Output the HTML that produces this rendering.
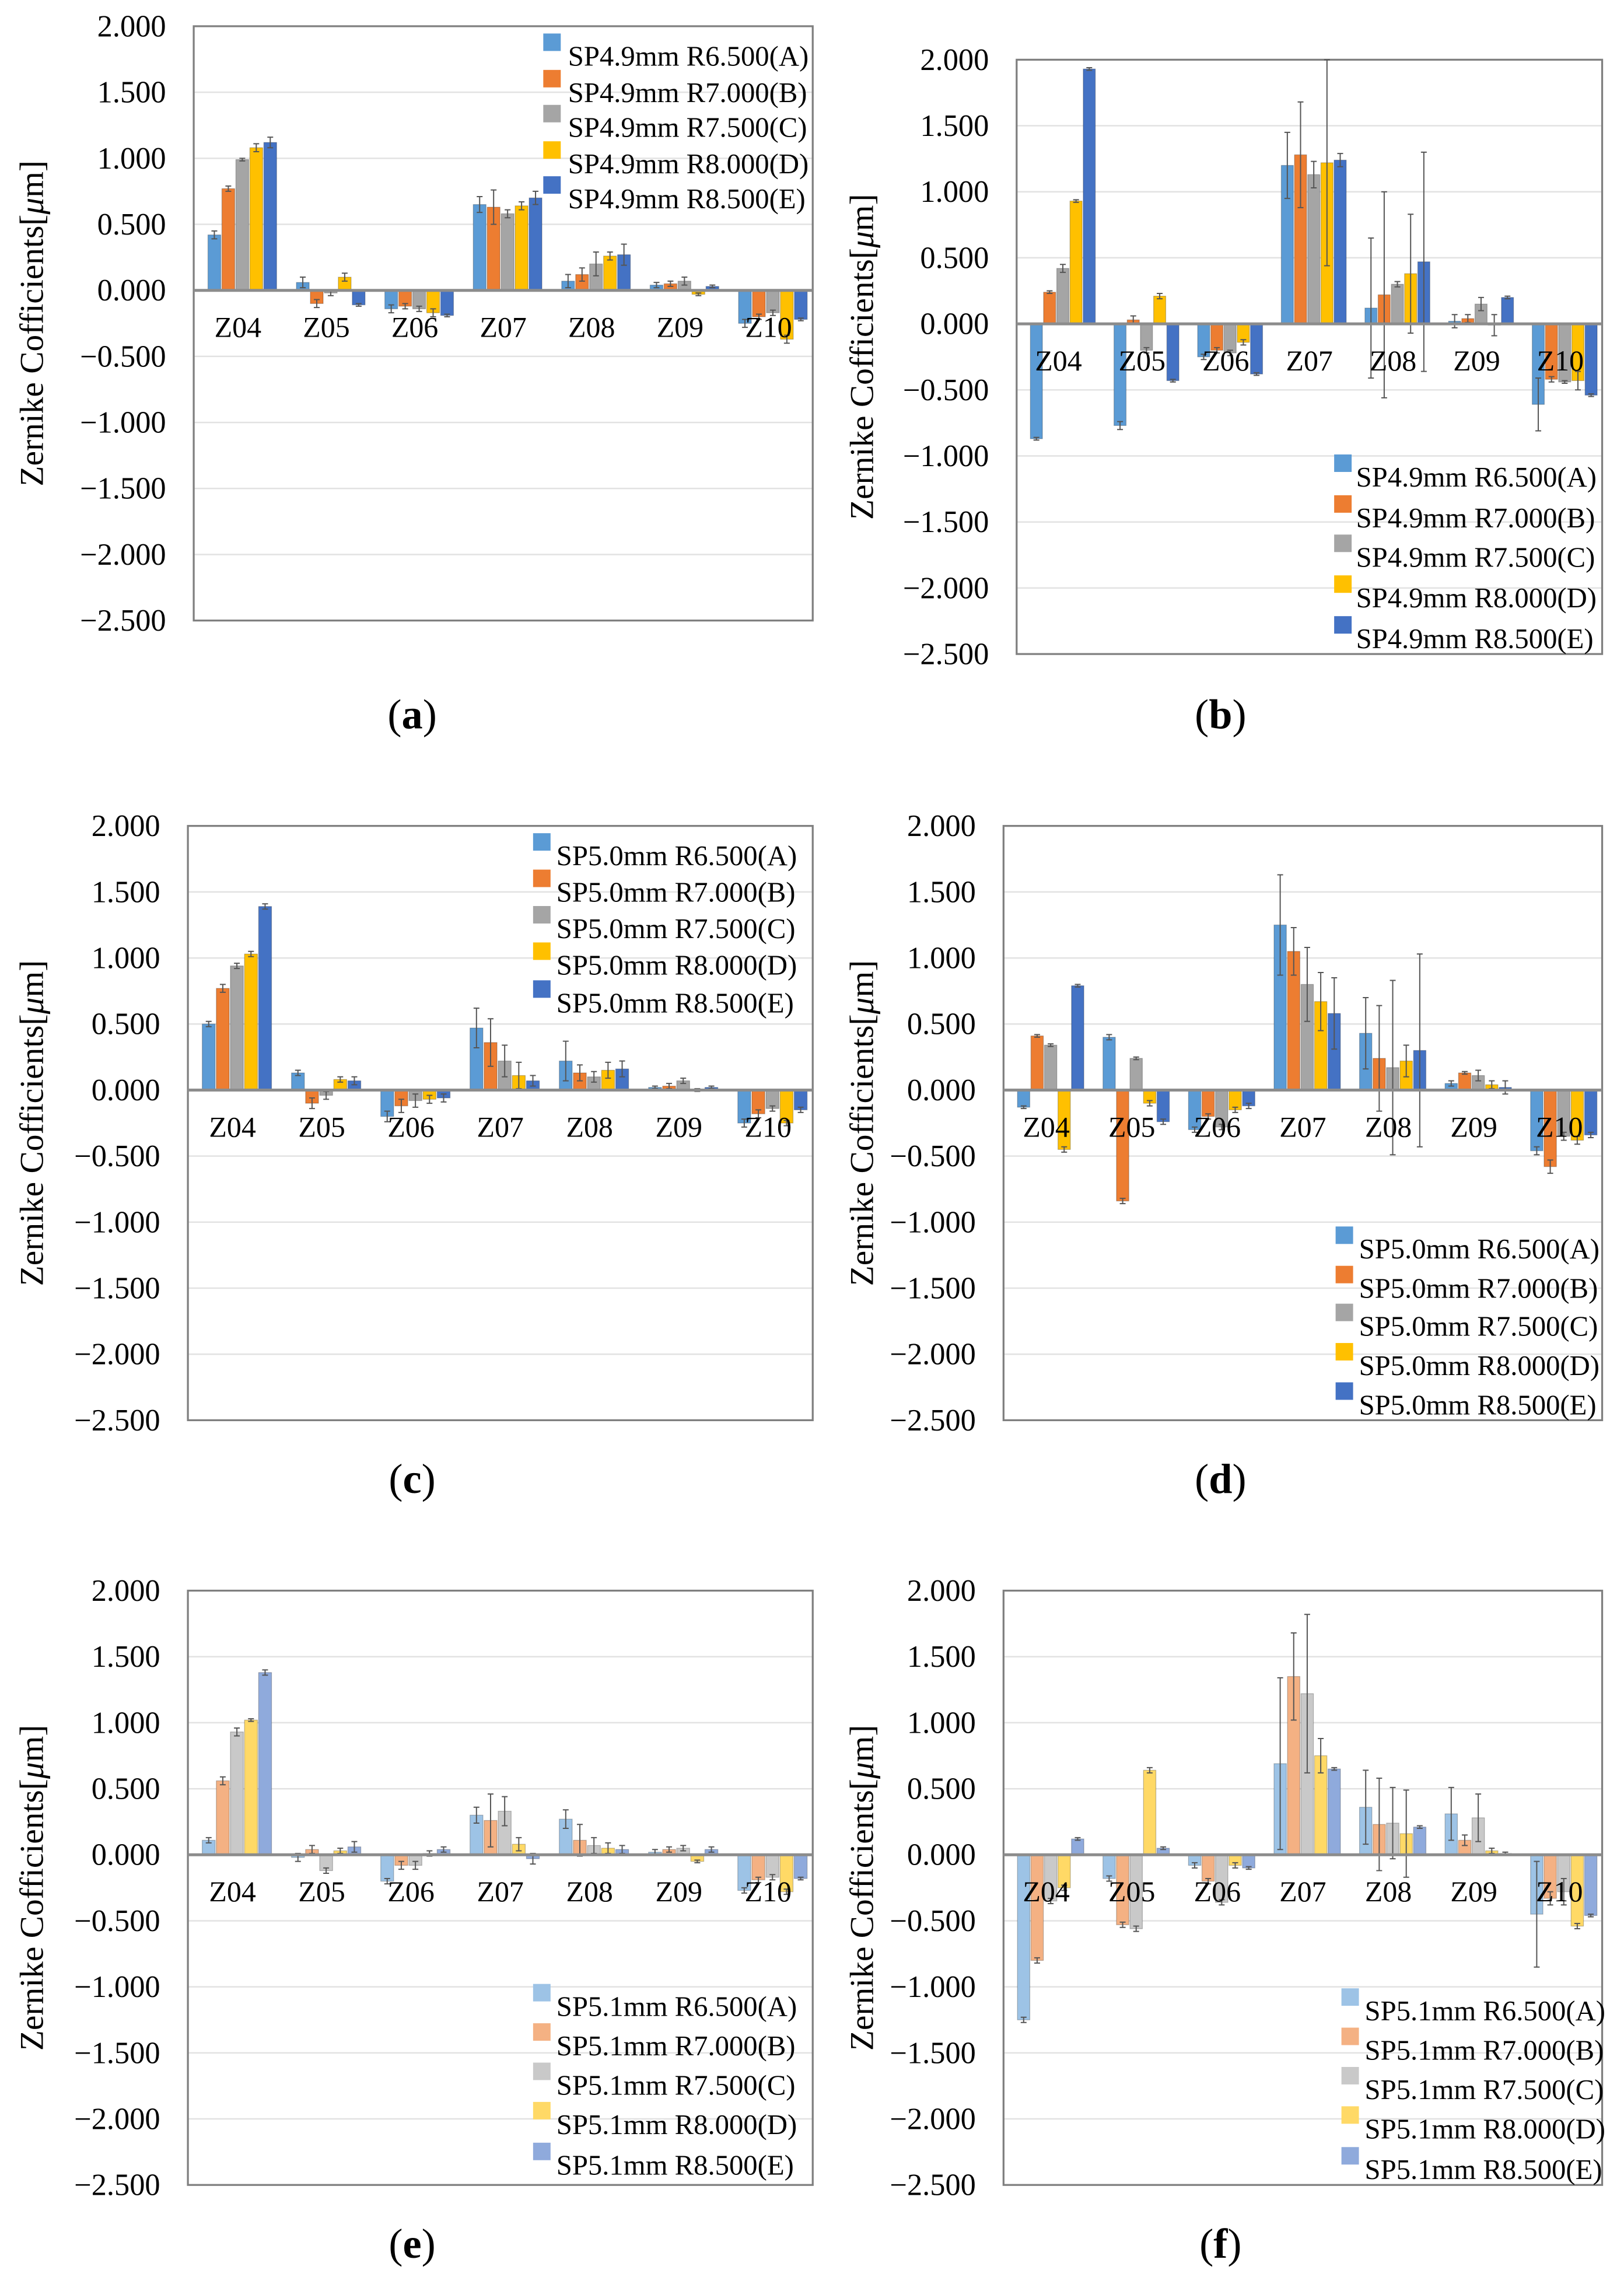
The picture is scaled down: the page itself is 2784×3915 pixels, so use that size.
<!DOCTYPE html>
<html><head><meta charset="utf-8"><style>
html,body{margin:0;padding:0;background:#fff;}
svg{display:block;}
text{font-family:"Liberation Serif",serif;fill:#000;}
</style></head><body>
<svg id="fig" width="2784" height="3915" viewBox="0 0 1115 1568" preserveAspectRatio="none" xmlns="http://www.w3.org/2000/svg"></svg>
<script>
const categories = ["Z04","Z05","Z06","Z07","Z08","Z09","Z10"];
const yTicks = [2.0,1.5,1.0,0.5,0.0,-0.5,-1.0,-1.5,-2.0,-2.5];
const yTickLabels = ["2.000","1.500","1.000","0.500","0.000","\u22120.500","\u22121.000","\u22121.500","\u22122.000","\u22122.500"];
const seriesKeys = ["R6.500(A)","R7.000(B)","R7.500(C)","R8.000(D)","R8.500(E)"];

const aVals = [[0.42,0.06,-0.14,0.65,0.07,0.04,-0.25],[0.77,-0.10,-0.12,0.63,0.12,0.05,-0.20],[0.99,-0.02,-0.14,0.58,0.20,0.07,-0.17],[1.08,0.10,-0.17,0.64,0.26,-0.03,-0.37],[1.12,-0.11,-0.19,0.70,0.27,0.03,-0.22]];
const aErr = [[0.03,0.04,0.03,0.06,0.05,0.02,0.03],[0.02,0.03,0.02,0.13,0.05,0.02,0.02],[0.01,0.02,0.02,0.03,0.09,0.03,0.02],[0.03,0.03,0.03,0.03,0.03,0.01,0.03],[0.04,0.01,0.01,0.05,0.08,0.01,0.01]];
const bVals = [[-0.87,-0.77,-0.25,1.20,0.12,0.02,-0.61],[0.24,0.03,-0.20,1.28,0.22,0.04,-0.42],[0.42,-0.20,-0.22,1.13,0.30,0.15,-0.44],[0.93,0.21,-0.14,1.22,0.38,-0.01,-0.43],[1.93,-0.43,-0.38,1.24,0.47,0.20,-0.54]];
const bErr = [[0.01,0.03,0.02,0.25,0.53,0.05,0.20],[0.01,0.03,0.02,0.40,0.78,0.03,0.02],[0.03,0.02,0.02,0.10,0.02,0.05,0.01],[0.01,0.02,0.02,0.78,0.45,0.08,0.07],[0.01,0.01,0.01,0.05,0.83,0.01,0.01]];
const cVals = [[0.50,0.13,-0.20,0.47,0.22,0.02,-0.25],[0.77,-0.10,-0.12,0.36,0.13,0.03,-0.18],[0.94,-0.04,-0.08,0.22,0.10,0.07,-0.14],[1.03,0.08,-0.07,0.11,0.15,0.00,-0.25],[1.39,0.07,-0.06,0.07,0.16,0.02,-0.15]];
const cErr = [[0.02,0.02,0.04,0.15,0.15,0.01,0.03],[0.03,0.04,0.05,0.18,0.06,0.02,0.03],[0.02,0.03,0.05,0.12,0.04,0.02,0.02],[0.02,0.02,0.03,0.10,0.06,0.01,0.02],[0.02,0.03,0.03,0.04,0.06,0.01,0.02]];
const dVals = [[-0.13,0.40,-0.30,1.25,0.43,0.05,-0.46],[0.41,-0.84,-0.20,1.05,0.24,0.13,-0.58],[0.34,0.24,-0.28,0.80,0.17,0.11,-0.35],[-0.45,-0.10,-0.15,0.67,0.22,0.04,-0.38],[0.79,-0.24,-0.12,0.58,0.30,0.02,-0.34]];
const dErr = [[0.01,0.02,0.02,0.38,0.27,0.02,0.03],[0.01,0.02,0.02,0.18,0.40,0.01,0.05],[0.01,0.01,0.02,0.28,0.66,0.04,0.03],[0.02,0.02,0.02,0.22,0.12,0.03,0.03],[0.01,0.02,0.02,0.27,0.73,0.05,0.02]];
const eVals = [[0.11,-0.02,-0.20,0.30,0.27,0.02,-0.27],[0.56,0.04,-0.08,0.26,0.11,0.04,-0.19],[0.93,-0.12,-0.08,0.33,0.07,0.05,-0.17],[1.02,0.03,0.01,0.08,0.05,-0.05,-0.28],[1.38,0.06,0.04,-0.03,0.04,0.04,-0.18]];
const eErr = [[0.02,0.03,0.02,0.06,0.07,0.02,0.02],[0.03,0.03,0.03,0.20,0.12,0.02,0.02],[0.03,0.02,0.03,0.11,0.06,0.02,0.02],[0.01,0.02,0.02,0.05,0.04,0.01,0.02],[0.02,0.04,0.02,0.04,0.03,0.02,0.01]];
const fVals = [[-1.25,-0.18,-0.08,0.69,0.36,0.31,-0.45],[-0.80,-0.53,-0.20,1.35,0.23,0.11,-0.33],[-0.35,-0.56,-0.36,1.22,0.24,0.28,-0.28],[-0.25,0.64,-0.08,0.75,0.16,0.03,-0.54],[0.12,0.05,-0.10,0.65,0.21,0.01,-0.46]];
const fErr = [[0.02,0.02,0.02,0.65,0.28,0.20,0.40],[0.02,0.02,0.02,0.33,0.35,0.04,0.05],[0.02,0.02,0.02,0.60,0.27,0.18,0.10],[0.02,0.02,0.02,0.13,0.33,0.02,0.02],[0.01,0.01,0.01,0.01,0.01,0.01,0.01]];

const darkColors = ["#5B9BD5","#ED7D31","#A5A5A5","#FFC000","#4472C4"];
const lightColors = ["#9DC3E6","#F4B183","#C9C9C9","#FFD966","#8FAADC"];

const panels = [
 {id:"a",sp:"SP4.9mm",vals:aVals,err:aErr,x0:133,x1:558,y0:18,y1:426,colors:darkColors,sqX:373,txX:390,legY:[38,63,87,112,136],titleX:22,lab:[283,490]},
 {id:"b",sp:"SP4.9mm",vals:bVals,err:bErr,x0:698,x1:1100,y0:41,y1:449,colors:darkColors,sqX:916,txX:931,legY:[327,355,382,410,438],titleX:592,lab:[838,490]},
 {id:"c",sp:"SP5.0mm",vals:cVals,err:cErr,x0:129,x1:558,y0:567,y1:975,colors:darkColors,sqX:366,txX:382,legY:[587,612,637,662,688],titleX:22,lab:[283,1015]},
 {id:"d",sp:"SP5.0mm",vals:dVals,err:dErr,x0:689,x1:1100,y0:567,y1:975,colors:darkColors,sqX:917,txX:933,legY:[857,884,910,937,964],titleX:592,lab:[838,1015]},
 {id:"e",sp:"SP5.1mm",vals:eVals,err:eErr,x0:129,x1:558,y0:1092,y1:1500,colors:lightColors,sqX:366,txX:382,legY:[1377,1404,1431,1458,1486],titleX:22,lab:[283,1540]},
 {id:"f",sp:"SP5.1mm",vals:fVals,err:fErr,x0:689,x1:1100,y0:1092,y1:1500,colors:lightColors,sqX:921,txX:937,legY:[1380,1407,1434,1461,1489],titleX:592,lab:[838,1540]}
];

const NS="http://www.w3.org/2000/svg";
const svg=document.getElementById("fig");
function mk(tag,attrs,parent){const e=document.createElementNS(NS,tag);for(const k in attrs)e.setAttribute(k,attrs[k]);(parent||svg).appendChild(e);return e;}

panels.forEach(p=>{
  const g=mk("g",{});
  
  
  const yMax=yTicks[0], yMin=yTicks[yTicks.length-1];
  const ys=v=>p.y0+(yMax-v)/(yMax-yMin)*(p.y1-p.y0);
  const cw=(p.x1-p.x0)/categories.length;
  const xc=i=>p.x0+cw*(i+0.5);
  yTicks.forEach((t,i)=>{
    if(t!==0 && i>0 && i<yTicks.length-1){const gl=mk("line",{x1:p.x0,x2:p.x1,y1:ys(t),y2:ys(t),stroke:"#e2e2e2","stroke-width":1},g);
      
      }
    const tl=mk("text",{x:p.x0-19,y:ys(t)+7,"text-anchor":"end","font-size":21},g);
    tl.textContent=yTickLabels[i];
    
    
  });
  const fr=mk("rect",{x:p.x0,y:p.y0,width:p.x1-p.x0,height:p.y1-p.y0,fill:"none",stroke:"#7f7f7f","stroke-width":1.3},g);
  
  
  const ty=(p.y0+p.y1)/2;
  const at=mk("text",{x:p.titleX,y:ty,"text-anchor":"middle","font-size":23,transform:"rotate(-90 "+p.titleX+" "+ty+")"},g);
  at.setAttribute('dominant-baseline','central');
  at.innerHTML='Zernike Cofficients[<tspan font-style="italic">\u03bc</tspan>m]';
  
  
  const bw=cw*0.145, step=cw*0.158;
  p.vals.forEach((ser,s)=>{
    ser.forEach((v,i)=>{
      const x=xc(i)+(s-2)*step-bw/2+3;
      const yv=ys(v), y0=ys(0);
      const r=mk("rect",{x:x,y:Math.min(yv,y0),width:bw,height:Math.abs(y0-yv),fill:p.colors[s],stroke:"rgba(0,0,0,0.25)","stroke-width":0.5},g);
      
      
      const e=p.err[s][i], cx=x+bw/2;
      const el=mk("path",{d:"M"+cx+" "+ys(v+e)+"V"+ys(v-e)+"M"+(cx-2)+" "+ys(v+e)+"h4M"+(cx-2)+" "+ys(v-e)+"h4",stroke:"#555","stroke-width":0.8,fill:"none"},g);
      
      
    });
  });
  const zl=mk("line",{x1:p.x0,x2:p.x1,y1:ys(0),y2:ys(0),stroke:"#8c8c8c","stroke-width":2},g);
  
  
  categories.forEach((c,i)=>{
    const t=mk("text",{x:xc(i),y:ys(0)+32,"text-anchor":"middle","font-size":20},g);
    t.textContent=c;
    
    
  });
  seriesKeys.forEach((k,s)=>{
    const ly=p.legY[s];
    const sq=mk("rect",{x:p.sqX,y:ly-15,width:12,height:12,fill:p.colors[s]},g);
    
    
    const t=mk("text",{x:p.txX,y:ly+7,"font-size":19.5},g);
    t.textContent=p.sp+" "+k;
    
    
  });
  const lb=mk("text",{x:p.lab[0],y:p.lab[1]+10,"text-anchor":"middle","font-size":29},g);
  lb.innerHTML='(<tspan font-weight="bold">'+p.id+'</tspan>)';
  
  
});
</script>
</body></html>
